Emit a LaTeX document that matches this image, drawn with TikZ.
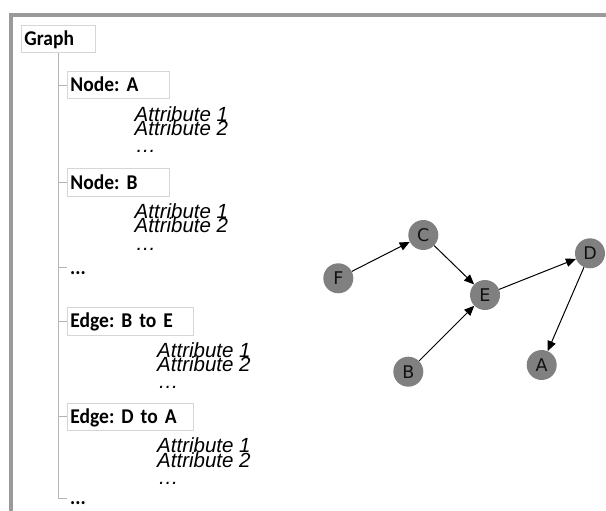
\documentclass[tikz,border=0pt]{standalone}
\usepackage{fontspec}
\usetikzlibrary{arrows.meta}
\newfontfamily\treefont[FakeStretch=0.93]{Carlito}
\newfontfamily\attrfont{Liberation Sans}
\newfontfamily\graphfont{DejaVu Sans}
\definecolor{framegray}{HTML}{9A9A9A}
\definecolor{treegray}{HTML}{B4B4B4}
\definecolor{boxgray}{HTML}{D6D6D6}
\definecolor{nodegray}{HTML}{808080}
\definecolor{labelink}{HTML}{111111}
\frenchspacing
\begin{document}
\begin{tikzpicture}[x=1bp,y=-1bp,
  item/.style={anchor=north west, inner xsep=3bp, inner ysep=0pt,
    text height=20.5bp, text depth=7bp, align=left,
    font=\treefont\bfseries\fontsize{21bp}{24bp}\selectfont},
  itembox/.style={item, draw=boxgray, line width=0.9bp},
  attr/.style={anchor=base west, inner sep=0pt,
    font=\attrfont\itshape\fontsize{20.5bp}{24bp}\selectfont},
  branch/.style={draw=treegray, line width=1bp},
  vertex/.style={circle, fill=nodegray, minimum size=30bp, inner sep=0pt,
    text=labelink, font=\graphfont\fontsize{17.5bp}{20bp}\selectfont},
  link/.style={line width=1bp, -{Triangle[length=10bp,width=8.5bp]}}]
\useasboundingbox (0,0) rectangle (606,511);

% outer frame (left and top edges)
\draw[framegray, line width=3.3bp] (11,511) -- (11,15) -- (606,15);

% tree of records
\node[itembox, text width=68bp] (g) at (21,25) {Graph};
\node[itembox, text width=96bp] (na) at (67,71) {Node: A};
\node[itembox, text width=96bp] (nb) at (67,168.25) {Node: B};
\node[item] (more1) at (67,254) {...};
\node[itembox, text width=120bp] (eb) at (67,307) {Edge: B to E};
\node[itembox, text width=120bp] (ed) at (67,402.5) {Edge: D to A};
\node[item] (more2) at (67,484.25) {...};

\draw[branch] (g.south) -- (g.south |- more2.west) -- (more2.west);
\foreach \n in {na,nb,more1,eb,ed}
  \draw[branch] (g.south |- \n.west) -- (\n.west);

% attribute lists
\foreach \nm/\x/\y in {na/134.5/121.5, nb/134.5/218.5, eb/157/357, ed/157/452.5} {
  \node[attr] (\nm-a1) at (\x,\y) {Attribute 1};
  \node[attr] (\nm-a2) at (\x,\y+14.5) {Attribute 2};
  \node[attr] (\nm-a3) at (\x+1,\y+31.5) {…};
}

% example directed graph
\node[vertex] (C) at (423.3,235) {C};
\node[vertex] (F) at (338.3,278.3) {F};
\node[vertex] (E) at (485,295) {E};
\node[vertex] (D) at (590,253.3) {D};
\node[vertex] (B) at (408.3,371.7) {B};
\node[vertex] (A) at (541.7,365) {A};

\draw[link] (F) -- (C);
\draw[link] (C) -- (E);
\draw[link] (B) -- (E);
\draw[link] (E) -- (D);
\draw[link] (D) -- (A);
\end{tikzpicture}
\end{document}
